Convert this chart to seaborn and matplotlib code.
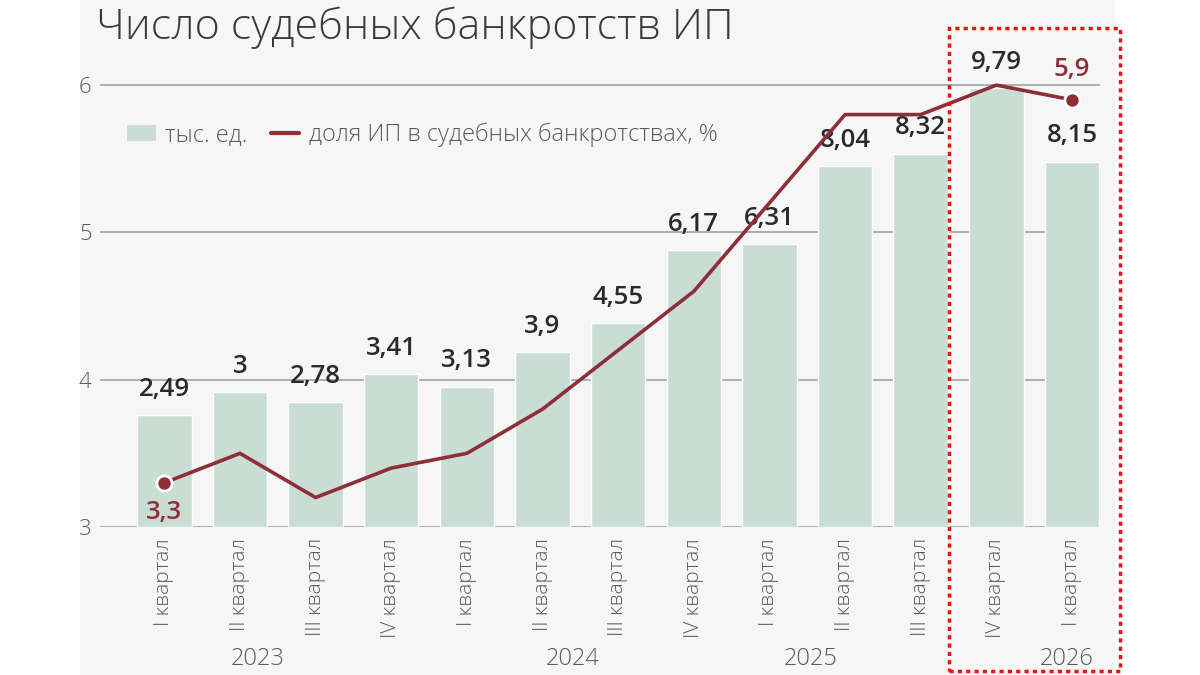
import pandas as pd
import numpy as np
import matplotlib.pyplot as plt
import seaborn as sns
from matplotlib.patches import Rectangle
from matplotlib.lines import Line2D

# данные
quarters = ["I квартал", "II квартал", "III квартал", "IV квартал",
            "I квартал", "II квартал", "III квартал", "IV квартал",
            "I квартал", "II квартал", "III квартал", "IV квартал",
            "I квартал"]
bankr = [2.49, 3, 2.78, 3.41, 3.13, 3.9, 4.55, 6.17, 6.31, 8.04, 8.32, 9.79, 8.15]
share = [3.3, 3.5, 3.2, 3.4, 3.5, 3.8, 4.2, 4.6, 5.2, 5.8, 5.8, 6.0, 5.9]
bar_labels = ["2,49", "3", "2,78", "3,41", "3,13", "3,9", "4,55", "6,17",
              "6,31", "8,04", "8,32", "9,79", "8,15"]
years = ["2023", "2024", "2025", "2026"]
year_pos = [1.24, 5.4, 8.54, 11.93]

df = pd.DataFrame({"pos": range(len(quarters)), "q": quarters,
                   "bankr": bankr, "share": share})

sns.set_theme(style="white")
plt.rcParams['font.family'] = ['Open Sans', 'DejaVu Sans']

BAR = "#c9ddd5"
LINE = "#8e2f38"
GREY = "#5a5a5a"

fig = plt.figure(figsize=(12, 6.75), dpi=100)
fig.patch.set_facecolor("white")
# серый фон картинки
fig.patches.append(Rectangle((80 / 1200, 0), 1035 / 1200, 1, transform=fig.transFigure,
                             facecolor="#f6f6f6", edgecolor="none", zorder=0))

ax = fig.add_axes([100 / 1200, 1 - 527 / 675, 1000 / 1200, 490.5 / 675])
ax.set_facecolor("none")
sns.barplot(data=df, x="pos", y="bankr", color=BAR, width=0.72, ax=ax,
            saturation=1, order=list(range(len(quarters))))
ax.set_ylim(0, 3.33 * 3.285)
ax.set_xlim(-0.85, 12.37)
ax.set_yticks([])
ax.set_ylabel("")
ax.set_xlabel("")
ax.set_xticks(range(len(quarters)))
ax.set_xticklabels(quarters, rotation=90, color=GREY, fontsize=15, fontweight="light")
ax.tick_params(axis="x", length=0, pad=8)
for s in ax.spines.values():
    s.set_visible(False)

for i, (v, t) in enumerate(zip(bankr, bar_labels)):
    ax.text(i, v + 0.3, t, ha="center", va="bottom", fontsize=18.5,
            color="#2a2a2a", fontweight="semibold")

for y, p in zip(years, year_pos):
    ax.text(p, -0.27, y, transform=ax.get_xaxis_transform(), ha="center",
            va="center", fontsize=17, color=GREY, fontweight="light")

ax2 = ax.twinx()
ax.set_zorder(2)
ax2.set_zorder(1)
ax.patch.set_visible(False)

# линия поверх столбцов: отдельная ось сверху
ax3 = fig.add_axes(ax.get_position(), sharex=ax)
ax3.set_facecolor("none")
ax3.set_zorder(3)
sns.lineplot(data=df, x="pos", y="share", color=LINE, linewidth=2.6, ax=ax3)
ax3.scatter([df.pos.iloc[0], df.pos.iloc[-1]], [share[0], share[-1]], s=120,
            color=LINE, edgecolor="white", linewidth=2, zorder=5)
ax3.set_ylim(3, 6.33)
ax3.set_xlim(-0.85, 12.37)
ax3.axis("off")
ax3.text(0, share[0] - 0.12, "3,3", ha="center", va="top", fontsize=18.5,
         color=LINE, fontweight="semibold")
ax3.text(12, share[-1] + 0.12, "5,9", ha="center", va="bottom", fontsize=18.5,
         color=LINE, fontweight="semibold")

# сетка и шкала доли (слева)
ax2.set_ylim(3, 6.33)
ax2.yaxis.tick_left()
ax2.set_yticks([3, 4, 5, 6])
ax2.set_yticklabels(["3", "4", "5", "6"], color=GREY, fontsize=16, fontweight="light")
ax2.tick_params(axis="y", length=0, pad=6)
ax2.grid(False)
for yv in [3, 4, 5, 6]:
    ax2.axhline(yv, color="#a8a8a8", linewidth=1.3, zorder=0)
for s in ax2.spines.values():
    s.set_visible(False)

fig.text(96 / 1200, 1 - 28 / 675, "Число судебных банкротств ИП", fontsize=31,
         fontweight="light", color="#3a3a3a", va="center", ha="left")

handles = [Rectangle((0, 0), 1, 1, facecolor=BAR, edgecolor="none"),
           Line2D([0], [0], color=LINE, linewidth=3)]
leg = fig.legend(handles, ["тыс. ед.", "доля ИП в судебных банкротствах, %"],
                 loc="center left", bbox_to_anchor=(106 / 1200, 1 - 135 / 675),
                 ncol=2, frameon=False, fontsize=17, handlelength=1.2,
                 handletextpad=0.4, columnspacing=1.0)
for t in leg.get_texts():
    t.set_color(GREY)
    t.set_fontweight("light")

fig.patches.append(Rectangle((949 / 1200, 1 - 671 / 675), 171 / 1200, 643 / 675,
                             transform=fig.transFigure, facecolor="none",
                             edgecolor="#ee1111", linewidth=2.5, linestyle=(0, (1.2, 1.2)),
                             zorder=10))

fig.savefig("out.png", dpi=100)
